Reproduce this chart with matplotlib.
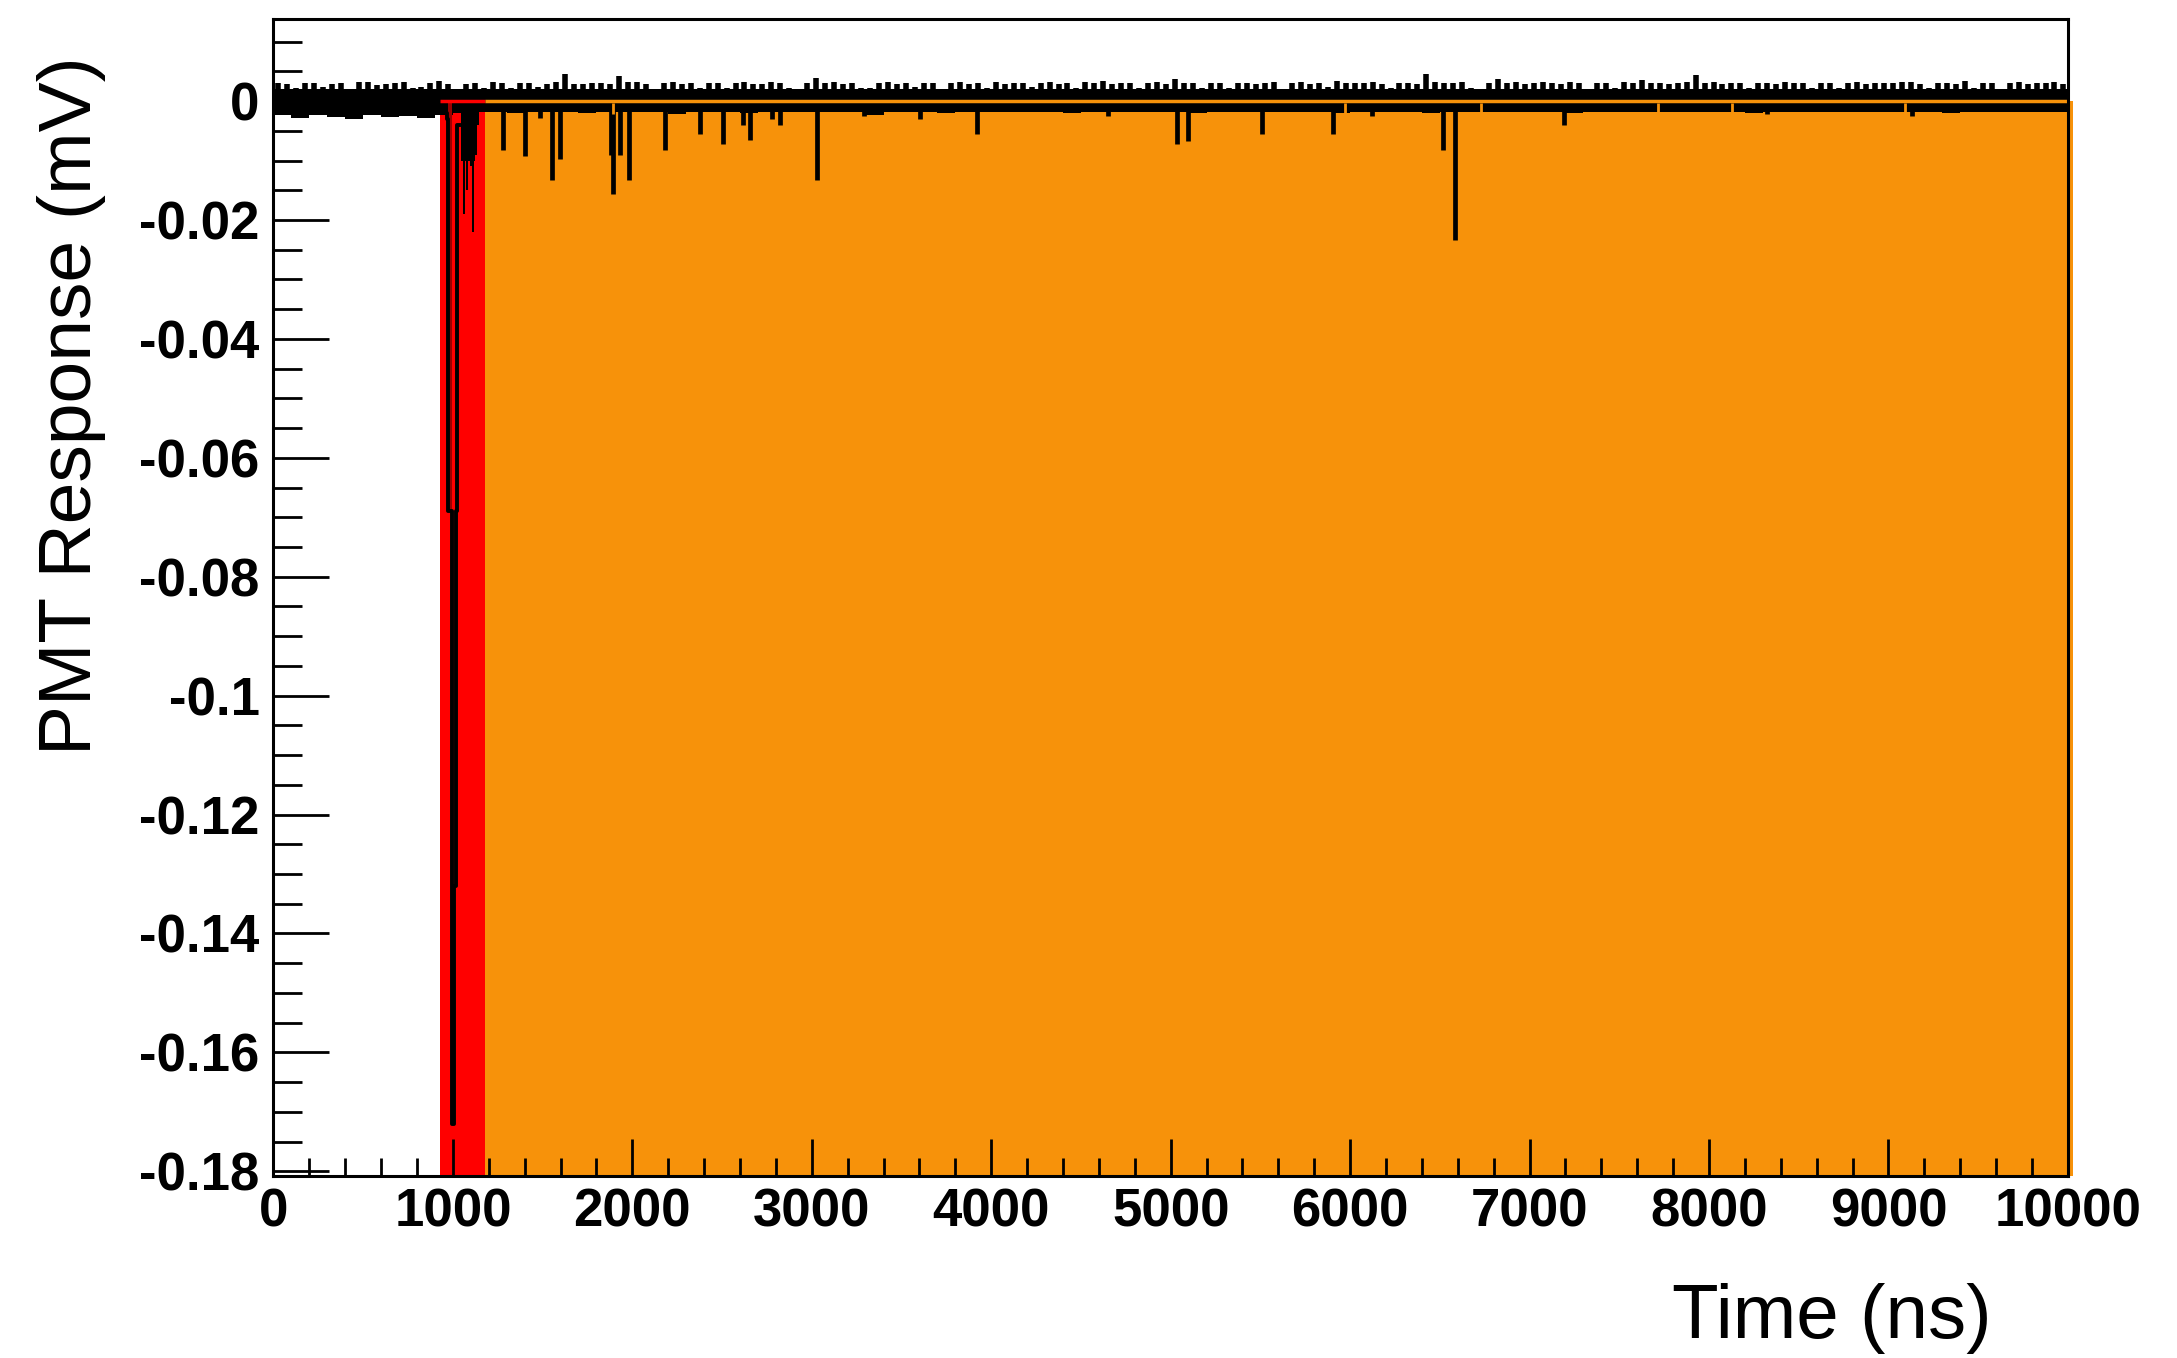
import numpy as np
import matplotlib.pyplot as plt
from matplotlib.ticker import FixedLocator, MultipleLocator

# baseline noise: continuous band plus upward noise spikes (mV)
band_top = 2.0e-3
noise_t = np.arange(0, 10000, 100)
noise_hi = np.array([
    3.0, 2.2, 3.1, 2.8, 2.1, 3.2, 2.9, 3.2, 2.4, 3.3,
    2.1, 3.1, 3.2, 2.2, 3.0, 2.9, 4.6, 2.8, 3.1, 4.2,
    3.2, 2.1, 3.2, 3.0, 3.1, 2.2, 3.2, 2.8, 3.1, 2.1,
    3.9, 3.2, 3.1, 2.2, 3.2, 3.1, 3.0, 2.1, 3.2, 3.1,
    3.2, 3.0, 2.3, 3.2, 3.1, 3.2, 3.4, 3.0, 2.2, 3.2,
    3.7, 3.1, 3.0, 2.2, 3.1, 3.0, 2.1, 3.2, 3.1, 3.3,
    3.1, 3.2, 2.2, 3.1, 4.6, 3.0, 3.2, 2.0, 3.7, 3.2,
    3.1, 3.0, 3.2, 2.1, 3.1, 3.2, 3.5, 3.1, 3.0, 4.4,
    3.2, 3.0, 2.2, 3.1, 3.2, 3.0, 3.1, 2.2, 3.2, 3.1,
    3.0, 3.2, 2.2, 3.1, 3.3, 3.0, 2.1, 3.2, 3.1, 3.2,
]) * 1e-3
noise_hi2 = np.array([
    2.8, 3.1, 2.3, 3.0, 3.2, 2.7, 3.1, 2.2, 3.0, 2.8,
    2.9, 2.2, 3.0, 3.1, 2.3, 3.2, 2.9, 3.1, 2.8, 3.2,
    2.9, 3.1, 2.8, 2.2, 3.0, 3.1, 2.9, 3.2, 2.2, 3.0,
    3.1, 2.8, 2.2, 3.1, 2.9, 2.3, 3.1, 3.0, 2.8, 2.2,
    2.9, 3.1, 3.0, 2.8, 2.2, 3.0, 2.9, 3.1, 3.0, 2.8,
    3.0, 2.2, 3.1, 3.0, 2.9, 3.2, 3.0, 2.8, 2.3, 3.1,
    3.0, 2.8, 3.1, 2.9, 3.2, 3.1, 2.2, 3.1, 3.0, 2.9,
    3.2, 2.9, 3.0, 3.1, 2.2, 3.0, 3.1, 2.8, 3.2, 3.1,
    2.9, 3.1, 3.0, 2.8, 3.1, 2.2, 3.0, 3.1, 2.9, 3.0,
    3.2, 2.8, 3.1, 2.9, 2.2, 3.1, 3.0, 2.8, 3.1, 2.9,
]) * 1e-3
noise_lo = np.array([
    -2.4, -2.9, -2.4, -2.6, -3.0, -2.4, -2.6, -2.5, -2.9, -2.4,
    -2.0, -1.9, -1.8, -2.0, -1.9, -1.8, -1.9, -2.0, -1.8, -1.9,
    -1.9, -1.8, -2.2, -1.9, -1.8, -1.9, -2.0, -1.8, -1.9, -1.8,
    -1.9, -1.8, -1.9, -2.4, -1.8, -1.9, -1.8, -2.0, -1.8, -1.9,
    -1.8, -1.9, -1.8, -1.9, -2.0, -1.8, -1.9, -1.8, -1.9, -1.8,
    -1.9, -2.0, -1.8, -1.9, -1.8, -1.9, -1.8, -1.9, -1.8, -2.0,
    -1.9, -1.8, -1.9, -1.8, -2.0, -1.9, -1.8, -1.9, -1.8, -1.9,
    -1.8, -1.9, -2.0, -1.8, -1.9, -1.8, -1.9, -1.8, -1.9, -1.8,
    -1.9, -1.8, -2.0, -1.9, -1.8, -1.9, -1.8, -1.9, -1.8, -1.9,
    -1.8, -1.9, -1.8, -2.0, -1.9, -1.8, -1.9, -1.8, -1.9, -1.8,
]) * 1e-3
band_gaps = [1890, 5970, 6730, 7715, 8130, 9090]

# isolated single-photon spikes after the main pulse
spike_t = [1280, 1400, 1485, 1552, 1597, 1880, 1892, 1930, 1981, 2181, 2377,
           2505, 2616, 2655, 2778, 2825, 3029, 3290, 3603, 3920, 4650, 5034,
           5096, 5511, 5905, 6120, 6518, 6583, 7192, 8322, 9130]
spike_v = [-0.0082, -0.0092, -0.0028, -0.0132, -0.0098, -0.0090, -0.0157,
           -0.0090, -0.0132, -0.0082, -0.0056, -0.0073, -0.0040, -0.0065,
           -0.0030, -0.0040, -0.0132, -0.0025, -0.0030, -0.0056, -0.0025,
           -0.0073, -0.0067, -0.0056, -0.0056, -0.0025, -0.0082, -0.0233,
           -0.0040, -0.0022, -0.0025]

# main pulse, 10 ns bins
pulse_t = [935, 945, 955, 965, 975, 985, 995, 1005, 1015, 1025, 1035]
pulse_v = [-0.002, -0.001, -0.002, -0.003, -0.069, -0.069, -0.172, -0.132,
           -0.069, -0.004, -0.004]
# after-pulse tail, 10 ns bins
tail_t = [1045, 1055, 1065, 1075, 1085, 1095, 1105, 1115, 1125, 1135, 1145]
tail_v = [-0.010, -0.019, -0.010, -0.015, -0.010, -0.011, -0.022, -0.010,
          -0.009, -0.004, -0.004]

red_window = [930, 1180]
orange_window = [1180, 10030]

x_ticks = [0, 1000, 2000, 3000, 4000, 5000, 6000, 7000, 8000, 9000, 10000]
y_ticks = [0, -0.02, -0.04, -0.06, -0.08, -0.1, -0.12, -0.14, -0.16, -0.18]
y_tick_labels = ["0", "-0.02", "-0.04", "-0.06", "-0.08", "-0.1", "-0.12",
                 "-0.14", "-0.16", "-0.18"]

orange = "#f7920a"
red = "#ff0000"
ymin, ymax = -0.1808, 0.0138

fig = plt.figure(figsize=(21.77, 13.58), dpi=100)
ax = fig.add_axes([0.1256, 0.134, 0.8243, 0.852])

ax.fill_between(red_window, 0, ymin, color=red, lw=0, zorder=1)
ax.fill_between(orange_window, 0, ymin, color=orange, lw=0, zorder=1,
                clip_on=False)

t_edges = np.append(noise_t, 9995)
ax.fill_between(t_edges, np.append(noise_lo, noise_lo[-1]), band_top,
                step="post", color="black", lw=0, zorder=2)
ax.vlines(noise_t + 25, 0, noise_hi, color="black", lw=4, zorder=2)
ax.vlines(noise_t + 75, 0, noise_hi2, color="black", lw=4, zorder=2)
ax.vlines(spike_t, 0, spike_v, color="black", lw=3.4, zorder=2)
ax.fill_between([975, 995], 0, -0.069, color="#9a0000", lw=0, zorder=2)
ax.step(pulse_t, pulse_v, where="post", color="black", lw=2.8, zorder=3)
ax.fill_between(tail_t, 0, tail_v, step="post", color="black", lw=0,
                zorder=3)

# fill edge line on the zero level
ax.hlines(0, red_window[0], red_window[1], color=red, lw=2.5, zorder=4)
ax.hlines(0, orange_window[0], 9995, color=orange, lw=2.5, zorder=4)
ax.vlines(band_gaps, -0.0003, -0.0022, color=orange, lw=2, zorder=4)

ax.set_xlim(0, 10000)
ax.set_ylim(ymin, ymax)
ax.xaxis.set_major_locator(FixedLocator(x_ticks))
ax.xaxis.set_minor_locator(MultipleLocator(200))
ax.yaxis.set_major_locator(FixedLocator(y_ticks))
ax.yaxis.set_minor_locator(MultipleLocator(0.005))
ax.set_xticklabels([str(v) for v in x_ticks])
ax.set_yticklabels(y_tick_labels)

for lab in ax.get_xticklabels() + ax.get_yticklabels():
    lab.set_fontfamily("Liberation Sans")
    lab.set_fontweight("bold")
    lab.set_fontsize(38)

ax.tick_params(axis="x", which="major", direction="in", length=27, width=2,
               pad=8, top=False)
ax.tick_params(axis="x", which="minor", direction="in", length=13, width=2,
               top=False)
ax.tick_params(axis="y", which="major", direction="in", length=40, width=2,
               pad=10, right=False)
ax.tick_params(axis="y", which="minor", direction="in", length=21, width=2,
               right=False)
for s in ax.spines.values():
    s.set_linewidth(2.2)
    s.set_zorder(5)

fig.text(1992 / 2177, 1 - 1319 / 1358, "Time (ns)", ha="right", va="center",
         fontsize=55, family="Liberation Sans")
fig.text(72 / 2177, 1 - 56 / 1358, "PMT Response (mV)", ha="center", va="top",
         rotation=90, fontsize=54, family="Liberation Sans")

fig.savefig("out.png", dpi=100)
